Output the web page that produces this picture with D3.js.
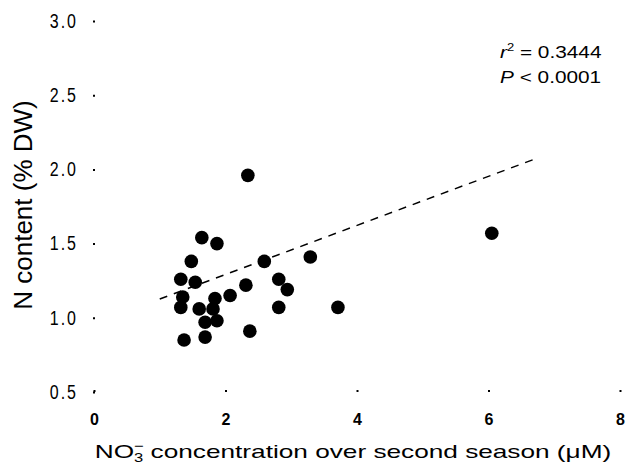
<!DOCTYPE html>
<html>
<head>
<meta charset="utf-8">
<script src="https://cdn.jsdelivr.net/npm/d3@7"></script>
<style>
  body { margin: 0; background: #fff; }
  text { font-family: "Liberation Sans", Arial, sans-serif; fill: #000; }
</style>
</head>
<body>
<script>
// nitrate concentration (µM) and N content (% DW)
const nitrate = [1.64, 1.87, 1.48, 1.32, 1.54, 1.35, 1.32, 1.84, 1.60, 1.81, 1.87, 1.69, 1.69, 1.37,
                 2.07, 2.31, 2.59, 2.37, 2.81, 2.94, 2.81, 3.29, 2.34, 6.05, 3.71];
const nContent = [1.54, 1.50, 1.38, 1.26, 1.24, 1.14, 1.07, 1.13, 1.06, 1.06, 0.98, 0.97, 0.87, 0.85,
                  1.15, 1.22, 1.38, 0.91, 1.26, 1.19, 1.07, 1.41, 1.96, 1.57, 1.07];
const xTicks = [0, 2, 4, 6, 8];
const yTicks = [0.5, 1.0, 1.5, 2.0, 2.5, 3.0];
// fitted line y = a + b x, drawn over x = 1.0 .. 6.7
const fitA = 0.961, fitB = 0.1654;
const fitRange = [1.0, 6.7];

const width = 626, height = 468;

const svg = d3.select("body").append("svg")
    .attr("width", width)
    .attr("height", height);

const x = d3.scaleLinear().domain([0, 8]).range([94, 620]);
const y = d3.scaleLinear().domain([0.5, 3.0]).range([392, 21]);

// y axis: only small dot ticks, no line
const yAxis = svg.append("g")
    .attr("transform", "translate(94,0)")
    .call(d3.axisLeft(y).tickValues(yTicks).tickSize(2).tickPadding(14)
        .tickFormat(d3.format(".1f")));
yAxis.select(".domain").remove();
yAxis.selectAll(".tick line").attr("stroke-width", 2).attr("x1", 1).attr("x2", -1);
yAxis.selectAll(".tick text")
    .attr("font-size", 16)
    .attr("letter-spacing", 2)
    .attr("transform", "scale(1,1.3)")
    .attr("dy", "0.3em")
    .attr("font-family", "Liberation Sans, Arial, sans-serif");

const xAxis = svg.append("g")
    .attr("transform", "translate(0,391)")
    .call(d3.axisBottom(x).tickValues(xTicks).tickSize(2).tickPadding(21)
        .tickFormat(d3.format("d")));
xAxis.select(".domain").remove();
xAxis.selectAll(".tick line").attr("stroke-width", 2).attr("y1", -1).attr("y2", 1);
xAxis.selectAll(".tick text")
    .attr("font-size", 16)
    .attr("font-weight", "bold")
    .attr("font-family", "Liberation Sans, Arial, sans-serif");

// regression line
svg.append("line")
    .attr("x1", x(fitRange[0]))
    .attr("y1", y(fitA + fitB * fitRange[0]))
    .attr("x2", x(fitRange[1]))
    .attr("y2", y(fitA + fitB * fitRange[1]))
    .attr("stroke", "#000")
    .attr("stroke-width", 1.5)
    .attr("stroke-dasharray", "8,7");

// points
svg.selectAll("circle.pt")
    .data(nitrate.map((v, i) => [v, nContent[i]]))
    .join("circle")
    .attr("class", "pt")
    .attr("cx", d => x(d[0]))
    .attr("cy", d => y(d[1]))
    .attr("r", 6.8)
    .attr("fill", "#000");

// stats
const stats = svg.append("g").attr("font-size", 16);
const t1 = stats.append("text").attr("transform", "translate(500,58) scale(1.3,1)");
t1.append("tspan").attr("font-style", "italic").text("r");
t1.append("tspan").attr("font-size", 10).attr("dy", -7).text("2");
t1.append("tspan").attr("dy", 7).text(" = 0.3444");
const t2 = stats.append("text").attr("transform", "translate(500,83) scale(1.3,1)");
t2.append("tspan").attr("font-style", "italic").text("P");
t2.append("tspan").text(" < 0.0001");

// axis titles
const xt = svg.append("text")
    .attr("transform", "translate(353,458) scale(1.38,1)")
    .attr("text-anchor", "middle")
    .attr("font-size", 19);
xt.append("tspan").text("NO");
xt.append("tspan").attr("font-size", 12).attr("dy", 4).text("3");
xt.append("tspan").attr("font-size", 12).attr("dx", -7).attr("dy", -12).text("\u2212");
xt.append("tspan").attr("dy", 8).text(" concentration over second season (\u03bcM)");

svg.append("text")
    .attr("transform", "translate(32,205) rotate(-90)")
    .attr("text-anchor", "middle")
    .attr("font-size", 26)
    .text("N content (% DW)");
</script>
</body>
</html>
